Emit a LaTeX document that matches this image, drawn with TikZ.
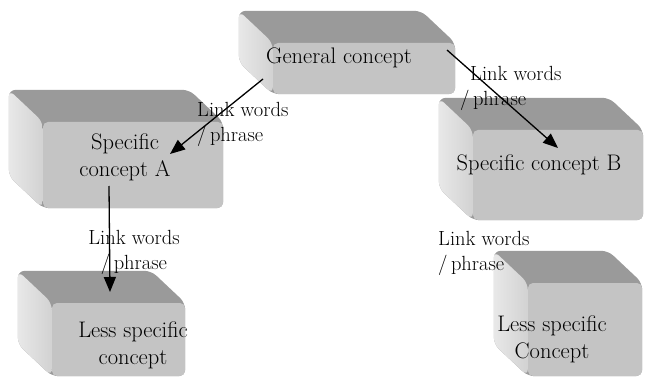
\documentclass[tikz,border=0pt]{standalone}
\usepackage{tikz}
\usetikzlibrary{arrows.meta, backgrounds}
\usepackage{xcolor}
\definecolor{facegray}{HTML}{C4C4C4}
\definecolor{topgray}{HTML}{9A9A9A}
\definecolor{sidelight}{HTML}{E8E8E8}
\definecolor{sidedark}{HTML}{D2D2D2}

\begin{document}
\begin{tikzpicture}[
  x=1pt, y=-1pt,
  face/.style={fill=facegray, rounded corners=5pt, inner sep=0pt},
  topface/.style={fill=topgray, rounded corners=7pt},
  sideface/.style={left color=sidelight, right color=sidedark, rounded corners=7pt},
  txt/.style={font=\fontsize{22.5}{27}\selectfont, align=center},
  lnk/.style={font=\fontsize{20.5}{25}\selectfont, inner sep=0pt},
  arr/.style={-{Triangle[length=15pt, width=12pt]}, line width=1.3pt}
]
  \useasboundingbox (0,0) rectangle (645,377);
  \foreach \name/\cx/\cy/\w/\h in {genbox/364/68.5/182/51, spabox/133/165/180/86,
      spbbox/558/175/170/90, lsabox/118.5/339.5/133/73, lsbbox/585/329.5/114/93} {
    \node[face, minimum width=\w pt, minimum height=\h pt] (\name) at (\cx,\cy) {};
    \begin{scope}[on background layer]
      \fill[topface] ([shift={(-34,-32)}]\name.north west) -- ([shift={(-34,-32)}]\name.north east)
        -- (\name.north east) -- (\name.south east) -- (\name.south west)
        -- ([shift={(-34,-32)}]\name.south west) -- cycle;
      \shade[sideface] ([shift={(-34,-32)}]\name.north west) -- (\name.north west)
        -- (\name.south west) -- ([shift={(-34,-32)}]\name.south west) -- cycle;
    \end{scope}
  }

  \node[txt] (gen) at (339,58) {General concept};
  \node[txt] (spa) at (125,157) {Specific\\concept A};
  \node[txt] (spb) at (539,165) {Specific concept B};
  \node[txt] (lsa) at (133,345) {Less specific\\concept};
  \node[txt] (lsb) at (552,339) {Less specific\\Concept};

  \node[lnk, align=left, anchor=west] (linkA) at (197,124.5) {Link words\\/\,phrase};
  \node[lnk, align=left, anchor=west] (linkB) at (460,88) {\hspace*{10pt}Link words\\/\,phrase};
  \node[lnk, align=center] (linkC) at (134,252) {Link words\\/\,phrase};
  \node[lnk, align=left, anchor=west] (linkD) at (438,253) {Link words\\/\,phrase};

  \draw[arr] ([shift={(-76,21)}]gen.center) -- ([shift={(45,-3)}]spa.center);
  \draw[arr] ([shift={(108,-8)}]gen.center) -- ([shift={(19,-17)}]spb.center);
  \draw[arr] ([shift={(-16,29)}]spa.center) -- ([shift={(-23,-53)}]lsa.center);
\end{tikzpicture}
\end{document}
